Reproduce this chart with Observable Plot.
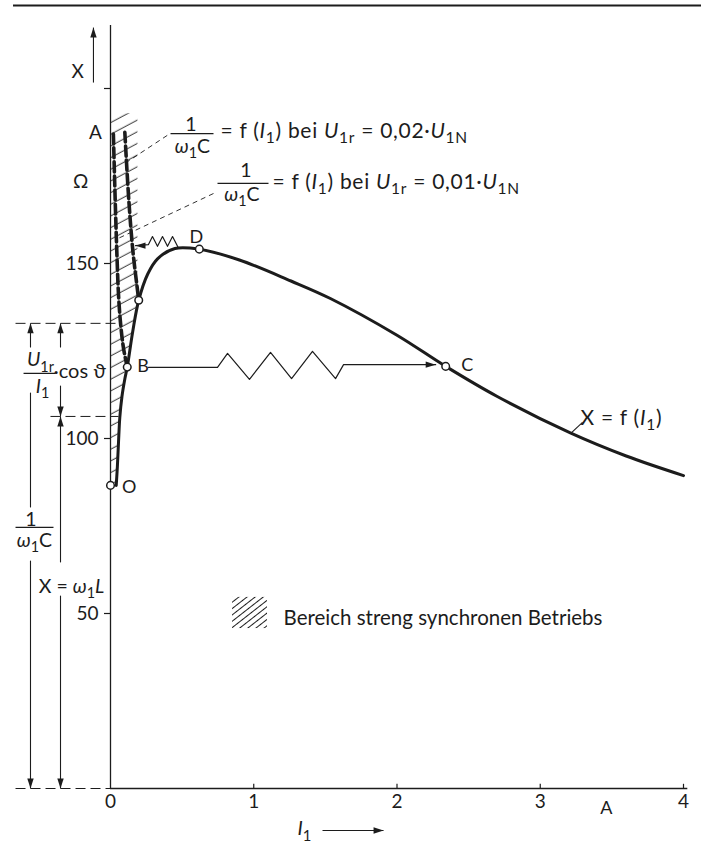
<!DOCTYPE html>
<html><head><meta charset="utf-8">
<script src="https://cdn.jsdelivr.net/npm/d3@7"></script>
<script src="https://cdn.jsdelivr.net/npm/@observablehq/plot@0.6"></script>
<style>body{margin:0;background:#fff} svg{display:block}</style>
</head><body><div id="chart"></div>
<script>
// ---------- data (I1 in A, X in Ω) ----------
const xTicks = [0, 1, 2, 3, 4];
const yTicks = [50, 100, 150, 200];
const yTickLabels = ["50", "100", "150", ""];
// X = f(I1)
const curveX = [[0.04,86.6],[0.048,92],[0.056,99],[0.065,106],[0.08,112],[0.1,117],[0.117,120.4],[0.155,130.5],[0.197,139.5],[0.26,147],[0.33,151.4],[0.45,154.3],[0.62,154.1],[0.9,151],[1.26,145],[1.535,140],[2.0,129.5],[2.34,120.6],[2.7,112],[3.21,101.6],[3.6,95],[4.0,89.4]];
// 1/(ω1C) = f(I1) bei U1r = 0,01·U1N
const curveC001 = [[0.02,187],[0.035,165],[0.047,150],[0.056,141],[0.07,133],[0.09,126],[0.117,120.4]];
// 1/(ω1C) = f(I1) bei U1r = 0,02·U1N
const curveC002 = [[0.1,187.5],[0.128,168],[0.156,153.7],[0.186,143.2],[0.197,139.5]];
// marked points
const pointNames = ["O", "B", "", "D", "C"];
const pointI = [0, 0.117, 0.197, 0.62, 2.34];
const pointX = [86.6, 120.4, 139.5, 154.1, 120.6];
// springs (schematic)
const springBC = [[0.265,120.3],[0.747,120.3],[0.817,124.3],[0.970,116.9],[1.117,124.6],[1.264,117.1],[1.410,124.9],[1.571,117.1],[1.627,121.1],[2.27,121.1]];
const springD = [[0.475,154.3],[0.468,154.9],[0.433,157.7],[0.398,154.9],[0.363,157.7],[0.328,154.9],[0.293,157.7],[0.265,155.4],[0.1745,155.1]];
// hatched region bounds
const hatchTop = 192.9, hatchRight = 0.188;
const legendText = "Bereich streng synchronen Betriebs";

// ---------- styling ----------
const ink = "#1c1c1c";
const F = "Lato, 'Open Sans', sans-serif";
const HATCH = "#010203", HATCH2 = "#040506";

const hatchPoly = [[0, hatchTop], [hatchRight, hatchTop], [hatchRight, 143.5]]
  .concat(curveX.filter(d => d[0] <= 0.2).reverse())
  .concat([[0, curveX[0][1]]]);

const points = pointNames.map((n, i) => ({n, I: pointI[i], X: pointX[i]}));

const arrowShape = {draw(c, l, r) { c.moveTo(0, -l); c.lineTo(r, 0); c.lineTo(-r, 0); c.closePath(); }};
const heads = [
  {I:-0.119, X:217.4, r:0},
  {I:-0.5585, X:132.9, r:0}, {I:-0.5585, X:0, r:180},
  {I:-0.349, X:132.9, r:0}, {I:-0.349, X:106.3, r:180}, {I:-0.349, X:106.3, r:0}, {I:-0.349, X:0, r:180},
  {I:2.27, X:121.1, r:90},
  {I:0.1745, X:155.1, r:-90},
  {I:1.906, X:-12, r:90}
];
const segs = [
  // dimension lines
  [-0.5585,132.9,-0.5585,126],[-0.5585,113.1,-0.5585,80.3],[-0.5585,65.1,-0.5585,0],
  [-0.349,132.9,-0.349,126],[-0.349,115.1,-0.349,106.3],[-0.349,106.3,-0.349,64.6],[-0.349,55.1,-0.349,0],
  // axis arrows
  [-0.119,201.7,-0.119,217.4],[1.48,-12,1.906,-12],
  // fraction bars
  [0.419,187.1,0.719,187.1],[0.747,172.9,1.103,172.9],[-0.607,118.6,-0.384,118.6],[-0.663,74.6,-0.398,74.6],
  // leader of X = f(I1)
  [3.295,104.6,3.211,101.4]
].map(([a,b,c,d]) => ({x1:a,y1:b,x2:c,y2:d}));
const dimDashed = [[-0.663,132.9,0.07,132.9],[-0.419,106.3,0.056,106.3],[-0.663,0,0,0]].map(([a,b,c,d]) => ({x1:a,y1:b,x2:c,y2:d}));
const leaders = [[0.396,186.6,0.115,179],[0.719,170,0.045,157]].map(([a,b,c,d]) => ({x1:a,y1:b,x2:c,y2:d}));

const labelsPts = [
  {I:0.60, X:155.9, t:"D"}, {I:0.228, X:118.9, t:"B"}, {I:2.49, X:119.4, t:"C"}, {I:0.13, X:84.3, t:"O"},
  {I:3.462, X:-7.2, t:"A"}
];
const labelsUnit = [
  {I:-0.105, X:185.7, t:"A"}, {I:-0.209, X:171.7, t:"Ω"}, {I:-0.230, X:202.9, t:"X"}
];
const labelsFrac = [
  {I:0.562, X:188, t:"1"}, {I:0.572, X:181.7, t:"*ω*_{1}C"},
  {I:0.946, X:174.6, t:"1"}, {I:0.918, X:168, t:"*ω*_{1}C"},
  {I:-0.489, X:120.6, t:"*U*_{1r}"}, {I:-0.475, X:113.1, t:"*I*_{1}"},
  {I:-0.555, X:75.1, t:"1"}, {I:-0.531, X:69.1, t:"*ω*_{1}C"},
  {I:-0.272, X:56, t:"X = *ω*_{1}*L*"}
];
const labelsStart = [
  {I:0.768, X:186, t:"= f (*I*_{1}) bei *U*_{1r} = 0,02·*U*_{1N}"},
  {I:1.131, X:171.4, t:"= f (*I*_{1}) bei *U*_{1r} = 0,01·*U*_{1N}"},
  {I:3.281, X:104, t:"X = f (*I*_{1})"}
];
const labelsStartSmall = [
  {I:-0.398, X:117.4, t:"·cos ϑ"},
  {I:1.305, X:-13.4, t:"*I*_{1}"}
];

const plot = Plot.plot({
  width: 701, height: 843,
  marginLeft: 110, marginRight: 18, marginTop: 25, marginBottom: 55,
  x: {domain: [0, 4], label: null},
  y: {domain: [0, 218], label: null},
  style: {fontFamily: F, color: ink, background: "white", overflow: "visible"},
  marks: [
    // top rule
    Plot.ruleY([223.7], {x1: -0.677, x2: 4.13, stroke: ink, strokeWidth: 2}),
    // hatched region
    Plot.line(hatchPoly, {x: d => d[0], y: d => d[1], fill: HATCH, stroke: "none"}),
    // axes
    Plot.ruleX([0], {y1: 0, y2: 218, stroke: ink, strokeWidth: 1.3}),
    Plot.ruleY([0], {x1: 0, x2: 4.03, stroke: ink, strokeWidth: 1.3}),
    Plot.ruleX(xTicks.slice(1), {y1: 0, y2: 1.2, stroke: ink, strokeWidth: 1.2}),
    Plot.axisY({ticks: yTicks, tickSize: 6, tickPadding: 6, tickFormat: d => yTickLabels[yTicks.indexOf(d)], fontSize: 19, stroke: ink, strokeWidth: 1.2, label: null}),
    Plot.axisX({ticks: xTicks, tickSize: 0, tickPadding: 6, tickFormat: d => String(d), fontSize: 19, label: null}),
    // dimension lines
    Plot.link(dimDashed, {x1:"x1", y1:"y1", x2:"x2", y2:"y2", stroke: ink, strokeWidth: 1, strokeDasharray: "10,5"}),
    Plot.link(segs, {x1:"x1", y1:"y1", x2:"x2", y2:"y2", stroke: ink, strokeWidth: 1.1}),
    Plot.link(leaders, {x1:"x1", y1:"y1", x2:"x2", y2:"y2", stroke: ink, strokeWidth: 0.9, strokeDasharray: "5,4"}),
    // curves
    Plot.line(curveC001, {x: d => d[0], y: d => d[1], curve: "catmull-rom", stroke: ink, strokeWidth: 3.6, strokeDasharray: "10,4"}),
    Plot.line(curveC002, {x: d => d[0], y: d => d[1], curve: "catmull-rom", stroke: ink, strokeWidth: 3.6, strokeDasharray: "10,4"}),
    Plot.line(curveX, {x: d => d[0], y: d => d[1], curve: "catmull-rom", stroke: ink, strokeWidth: 3}),
    // springs
    Plot.line(springBC, {x: d => d[0], y: d => d[1], stroke: ink, strokeWidth: 1.2}),
    Plot.line(springD, {x: d => d[0], y: d => d[1], stroke: ink, strokeWidth: 1.2}),
    // arrowheads
    Plot.vector(heads, {x: "I", y: "X", rotate: "r", length: 10, r: 3.2, anchor: "end", shape: arrowShape, fill: ink, stroke: "none"}),
    // points
    Plot.dot(points, {x: "I", y: "X", r: 3.8, fill: "white", stroke: ink, strokeWidth: 1.5}),
    // legend
    Plot.rect([0], {x1: 0.852, x2: 1.096, y1: 45.7, y2: 54.6, fill: HATCH2}),
    Plot.text([legendText], {x: 1.208, y: 46.6, text: d => d, textAnchor: "start", lineAnchor: "bottom", fontSize: 20.5, fill: ink}),
    // labels
    Plot.text(labelsPts, {x: "I", y: "X", text: "t", textAnchor: "middle", lineAnchor: "bottom", fontSize: 18, fill: ink}),
    Plot.text(labelsUnit, {x: "I", y: "X", text: "t", textAnchor: "middle", lineAnchor: "bottom", fontSize: 19, fill: ink}),
    Plot.text(labelsFrac, {x: "I", y: "X", text: "t", textAnchor: "middle", lineAnchor: "bottom", fontSize: 19.5, fill: ink}),
    Plot.text(labelsStart, {x: "I", y: "X", text: "t", textAnchor: "start", lineAnchor: "bottom", fontSize: 21, fill: ink}),
    Plot.text(labelsStartSmall, {x: "I", y: "X", text: "t", textAnchor: "start", lineAnchor: "bottom", fontSize: 20, fill: ink})
  ]
});

document.getElementById("chart").appendChild(plot);

// hatch patterns
const ns = "http://www.w3.org/2000/svg";
const defs = document.createElementNS(ns, "defs");
defs.innerHTML = `<pattern id="hatch" patternUnits="userSpaceOnUse" width="30" height="10.3" patternTransform="rotate(-28)"><line x1="-5" y1="5" x2="35" y2="5" stroke="${ink}" stroke-width="0.9"/></pattern>` +
  `<pattern id="hatch2" patternUnits="userSpaceOnUse" width="12" height="5" patternTransform="rotate(-38)"><line x1="-2" y1="2.5" x2="14" y2="2.5" stroke="${ink}" stroke-width="1"/></pattern>`;
plot.insertBefore(defs, plot.firstChild);
plot.querySelectorAll(`[fill="${HATCH}"]`).forEach(e => e.setAttribute("fill", "url(#hatch)"));
plot.querySelectorAll(`[fill="${HATCH2}"]`).forEach(e => e.setAttribute("fill", "url(#hatch2)"));

// rich text: *..* italic, _{..} subscript
plot.querySelectorAll("text").forEach(el => {
  const s = el.textContent;
  if (s.startsWith("= f") || s.startsWith("X = f")) el.setAttribute("letter-spacing", "0.7");
  if (!/[_*]/.test(s)) return;
  const fs = parseFloat(getComputedStyle(el).fontSize) || 17;
  const d = 0.28 * fs;
  el.textContent = "";
  let italic = false, shifted = false;
  const re = /_\{([^}]*)\}|\*|([^_*]+)/g;
  let m;
  while ((m = re.exec(s))) {
    if (m[0] === "*") { italic = !italic; continue; }
    const sub = m[1] !== undefined;
    const t = document.createElementNS(ns, "tspan");
    t.textContent = sub ? m[1] : m[2];
    if (italic) t.setAttribute("font-style", "italic");
    if (sub) {
      t.setAttribute("font-size", (fs * 0.74).toFixed(1));
      if (!shifted) { t.setAttribute("dy", d); shifted = true; }
    } else if (shifted) { t.setAttribute("dy", -d); shifted = false; }
    el.appendChild(t);
  }
});
</script></body></html>
